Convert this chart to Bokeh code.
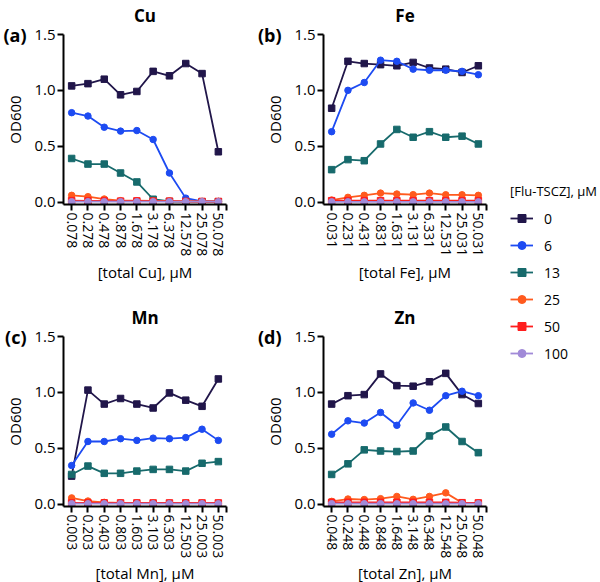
from bokeh.plotting import figure
from bokeh.layouts import row, column
from bokeh.models import (Range1d, FixedTicker, NumeralTickFormatter,
                          LinearAxis, Legend, LegendItem)
from bokeh.embed import file_html
from bokeh.resources import INLINE

FONT = "Open Sans"

# ---------------- data ----------------
series = ["0", "6", "13", "25", "50", "100"]
colors = ["#21164A", "#1D4BF2", "#176A6C", "#FF5A1E", "#FF1E1E", "#A18AD8"]
markers = ["square", "circle", "square", "circle", "square", "circle"]

cu_labels = ["0.078", "0.278", "0.478", "0.878", "1.678", "3.178", "6.378", "12.578", "25.078", "50.078"]
fe_labels = ["0.031", "0.231", "0.431", "0.831", "1.631", "3.131", "6.331", "12.531", "25.031", "50.031"]
mn_labels = ["0.003", "0.203", "0.403", "0.803", "1.603", "3.103", "6.303", "12.503", "25.003", "50.003"]
zn_labels = ["0.048", "0.248", "0.448", "0.848", "1.648", "3.148", "6.348", "12.548", "25.048", "50.048"]

cu_0 = [1.04, 1.06, 1.10, 0.96, 0.99, 1.17, 1.13, 1.24, 1.15, 0.45]
cu_6 = [0.80, 0.77, 0.67, 0.635, 0.64, 0.56, 0.26, 0.035, 0.005, 0.005]
cu_13 = [0.39, 0.34, 0.34, 0.26, 0.18, 0.025, 0.005, 0.003, 0.003, 0.003]
cu_25 = [0.06, 0.048, 0.027, 0.012, 0.012, 0.01, 0.01, 0.006, 0.005, 0.005]
cu_50 = [0.012, 0.01, 0.01, 0.008, 0.01, 0.008, 0.008, 0.005, 0.005, 0.005]
cu_100 = [0.003, 0.003, 0.003, 0.003, 0.003, 0.003, 0.003, 0.003, 0.003, 0.003]

fe_0 = [0.84, 1.26, 1.24, 1.23, 1.22, 1.25, 1.20, 1.19, 1.16, 1.22]
fe_6 = [0.63, 1.00, 1.07, 1.27, 1.26, 1.19, 1.18, 1.18, 1.17, 1.14]
fe_13 = [0.29, 0.38, 0.37, 0.52, 0.65, 0.58, 0.63, 0.58, 0.59, 0.52]
fe_25 = [0.018, 0.042, 0.06, 0.08, 0.072, 0.066, 0.08, 0.065, 0.065, 0.06]
fe_50 = [0.012, 0.012, 0.012, 0.012, 0.012, 0.012, 0.012, 0.012, 0.012, 0.012]
fe_100 = [0.002, 0.002, 0.002, 0.002, 0.002, 0.002, 0.002, 0.002, 0.002, 0.002]

mn_0 = [0.25, 1.02, 0.895, 0.945, 0.895, 0.86, 0.995, 0.93, 0.875, 1.12]
mn_6 = [0.345, 0.56, 0.56, 0.585, 0.57, 0.59, 0.585, 0.595, 0.67, 0.57]
mn_13 = [0.265, 0.34, 0.275, 0.275, 0.295, 0.31, 0.31, 0.295, 0.365, 0.38]
mn_25 = [0.055, 0.027, 0.015, 0.01, 0.01, 0.008, 0.008, 0.008, 0.008, 0.008]
mn_50 = [0.01, 0.01, 0.01, 0.01, 0.01, 0.01, 0.01, 0.01, 0.01, 0.01]
mn_100 = [0.003, 0.003, 0.003, 0.003, 0.003, 0.003, 0.003, 0.003, 0.003, 0.003]

zn_0 = [0.895, 0.97, 0.98, 1.165, 1.06, 1.055, 1.095, 1.17, 0.98, 0.90]
zn_6 = [0.625, 0.745, 0.725, 0.82, 0.705, 0.905, 0.84, 0.97, 1.01, 0.97]
zn_13 = [0.265, 0.36, 0.485, 0.475, 0.47, 0.475, 0.61, 0.69, 0.56, 0.46]
zn_25 = [0.024, 0.045, 0.04, 0.048, 0.068, 0.042, 0.068, 0.10, 0.012, 0.01]
zn_50 = [0.015, 0.015, 0.015, 0.015, 0.015, 0.015, 0.015, 0.015, 0.012, 0.01]
zn_100 = [0.003, 0.003, 0.003, 0.003, 0.003, 0.003, 0.003, 0.003, 0.003, 0.003]

y_ticks = [0, 0.5, 1.0, 1.5]

FRAME_W = 163
FRAME_H = 170
Y_START = -0.022


def bare_axis(**kw):
    return LinearAxis(axis_line_color=None, major_tick_line_color=None,
                      minor_tick_line_color=None, major_tick_in=0,
                      major_tick_out=0, **kw)


def make_panel(metal, letter, labels, values, bl, bt, bb, br,
               letter_standoff, xlabel_standoff):
    p = figure(frame_width=FRAME_W, frame_height=FRAME_H,
               min_border_left=bl, min_border_top=bt,
               min_border_bottom=bb, min_border_right=br,
               x_range=Range1d(-0.5, len(labels) - 0.5),
               y_range=Range1d(Y_START, 1.5),
               output_backend="svg", toolbar_location=None)
    p.outline_line_color = None
    p.grid.visible = False
    p.background_fill_color = "white"
    p.border_fill_color = "white"

    xs = list(range(len(labels)))
    for name, color, marker, ys in zip(series, colors, markers, values):
        p.line(xs, ys, line_color=color, line_width=1.8)
        p.scatter(xs, ys, marker=marker, size=6.5, fill_color=color,
                  line_color=color)

    # x axis
    xa = p.xaxis[0]
    xa.ticker = FixedTicker(ticks=xs + [len(labels) - 0.5])
    overrides = {i: lab for i, lab in enumerate(labels)}
    overrides[len(labels) - 0.5] = ""
    xa.major_label_overrides = overrides
    xa.major_label_orientation = "vertical"
    xa.axis_label = f"[total {metal}], µM"
    # y axis
    ya = p.yaxis[0]
    ya.ticker = FixedTicker(ticks=y_ticks)
    ya.formatter = NumeralTickFormatter(format="0.0")
    ya.axis_label = "OD600"
    for ax in (xa, ya):
        ax.axis_line_width = 2
        ax.axis_line_color = "black"
        ax.major_tick_line_width = 2
        ax.major_tick_line_color = "black"
        ax.major_tick_in = 0
        ax.major_tick_out = 6
        ax.minor_tick_line_color = None
        ax.major_label_text_font = FONT
        ax.major_label_text_font_size = "15px"
        ax.major_label_text_color = "black"
        ax.major_label_standoff = 2
        ax.axis_label_text_font = FONT
        ax.axis_label_text_font_size = "15px"
        ax.axis_label_text_font_style = "normal"
        ax.axis_label_text_color = "black"
    xa.major_label_text_font_size = "14px"
    ya.axis_label_standoff = 6
    xa.axis_label_standoff = xlabel_standoff

    # panel letter, at the height of the 1.5 tick, left of the y axis
    la = bare_axis(ticker=FixedTicker(ticks=[1.5]),
                   major_label_overrides={1.5: letter},
                   major_label_standoff=letter_standoff,
                   major_label_text_font=FONT,
                   major_label_text_font_size="18px",
                   major_label_text_font_style="bold",
                   major_label_text_color="black")
    p.add_layout(la, "left")

    # panel title (metal) above the frame
    ta = bare_axis(ticker=FixedTicker(ticks=[]), major_label_standoff=0,
                   axis_label=metal, axis_label_standoff=8,
                   axis_label_text_font=FONT,
                   axis_label_text_font_size="17px",
                   axis_label_text_font_style="bold",
                   axis_label_text_color="black")
    p.add_layout(ta, "above")
    return p


pa = make_panel("Cu", "(a)", cu_labels,
                [cu_0, cu_6, cu_13, cu_25, cu_50, cu_100],
                62, 32, 98, 25, -24, 3)
pb = make_panel("Fe", "(b)", fe_labels,
                [fe_0, fe_6, fe_13, fe_25, fe_50, fe_100],
                72, 32, 98, 10, -19, 3)
pc = make_panel("Mn", "(c)", mn_labels,
                [mn_0, mn_6, mn_13, mn_25, mn_50, mn_100],
                62, 32, 77, 25, -24, 2)
pd = make_panel("Zn", "(d)", zn_labels,
                [zn_0, zn_6, zn_13, zn_25, zn_50, zn_100],
                72, 32, 77, 10, -19, 2)

# legend figure
leg = figure(width=105, height=579, min_border_left=14, min_border_top=182,
             min_border_right=0, min_border_bottom=0,
             x_range=Range1d(0, 1), y_range=Range1d(0, 1),
             output_backend="svg", toolbar_location=None)
leg.axis.visible = False
leg.grid.visible = False
leg.outline_line_color = None
items = []
for name, color, marker in zip(series, colors, markers):
    lr = leg.line([5, 6], [5, 6], line_color=color, line_width=1.8)
    sr = leg.scatter([5], [5], marker=marker, size=6.5, fill_color=color,
                     line_color=color)
    items.append(LegendItem(label=name, renderers=[lr, sr]))
legend = Legend(items=items, location="top_left",
                title="[Flu-TSCZ], µM",
                title_text_font=FONT, title_text_font_size="13px",
                title_text_font_style="normal", title_text_color="black",
                title_standoff=8,
                label_text_font=FONT, label_text_font_size="14px",
                label_text_color="black",
                glyph_width=23, glyph_height=20, label_height=20,
                label_standoff=11, spacing=7, padding=0, margin=0,
                border_line_color=None, background_fill_alpha=0)
leg.add_layout(legend)

layout = row(column(pa, pc), column(pb, pd), leg)

open("out.html", "w").write(file_html(layout, INLINE))
